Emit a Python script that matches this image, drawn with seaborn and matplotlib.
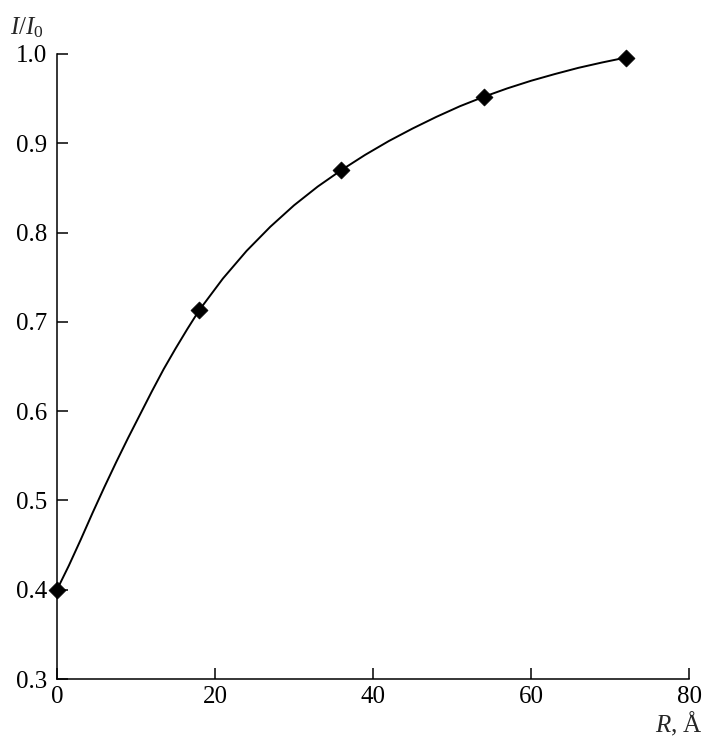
import matplotlib
matplotlib.use("Agg")
import matplotlib.pyplot as plt
import seaborn as sns
import pandas as pd

# measured points
r_points = [0, 18, 36, 54, 72]
i_points = [0.400, 0.713, 0.870, 0.952, 0.996]

# smooth curve
r_curve = [0, 1.5, 3, 4.5, 6, 7.5, 9, 10.5, 12, 13.5, 15, 16.5, 18,
           21, 24, 27, 30, 33, 36, 39, 42, 45, 48, 51, 54,
           57, 60, 63, 66, 69, 72]
i_curve = [0.400, 0.427, 0.456, 0.486, 0.515, 0.543, 0.570, 0.596, 0.622, 0.647,
           0.670, 0.692, 0.713,
           0.7485, 0.7795, 0.8065, 0.8305, 0.8515, 0.870,
           0.887, 0.9025, 0.9165, 0.9295, 0.9415, 0.952,
           0.9615, 0.970, 0.9775, 0.9845, 0.9905, 0.996]

x_ticks = [0, 20, 40, 60, 80]
y_ticks = [0.3, 0.4, 0.5, 0.6, 0.7, 0.8, 0.9, 1.0]

sns.set_theme(style="ticks")
plt.rcParams["font.family"] = ["Liberation Serif", "DejaVu Serif"]
plt.rcParams["mathtext.fontset"] = "custom"
plt.rcParams["mathtext.rm"] = "Liberation Serif"
plt.rcParams["mathtext.it"] = "Liberation Serif:italic"

fig = plt.figure(figsize=(7.09, 7.36), dpi=100)
ax = fig.add_axes([57/709, 1-679/736, (689-57)/709, (679-54)/736])

curve = pd.DataFrame({"R": r_curve, "I": i_curve})
pts = pd.DataFrame({"R": r_points, "I": i_points})

sns.lineplot(data=curve, x="R", y="I", ax=ax, color="black", linewidth=1.4,
             sort=False, estimator=None)
sns.scatterplot(data=pts, x="R", y="I", ax=ax, marker="D", s=75, color="black",
                edgecolor="black", linewidth=0.5, zorder=5, clip_on=False)

ax.set_xlim(0, 80)
ax.set_ylim(0.3, 1.0)
ax.set_xticks(x_ticks)
ax.set_xticklabels([str(v) for v in x_ticks])
ax.set_yticks(y_ticks)
ax.set_yticklabels([f"{v:.1f}" for v in y_ticks])
ax.tick_params(direction="in", length=8, width=1.1, labelsize=18, colors="black")
ax.tick_params(axis="y", pad=7)
ax.tick_params(axis="x", pad=5)
for s in ["top", "right"]:
    ax.spines[s].set_visible(False)
for s in ["left", "bottom"]:
    ax.spines[s].set_linewidth(1.1)
    ax.spines[s].set_color("black")
ax.set_xlabel("")
ax.set_ylabel("")

fig.text(10/709, 1-34/736, r"$I/I_{\mathrm{0}}$", fontsize=18, ha="left", va="baseline")
fig.text(703/709, 1-732/736, r"$R$, Å", fontsize=18, ha="right", va="baseline")

fig.savefig("out.png", dpi=100)
